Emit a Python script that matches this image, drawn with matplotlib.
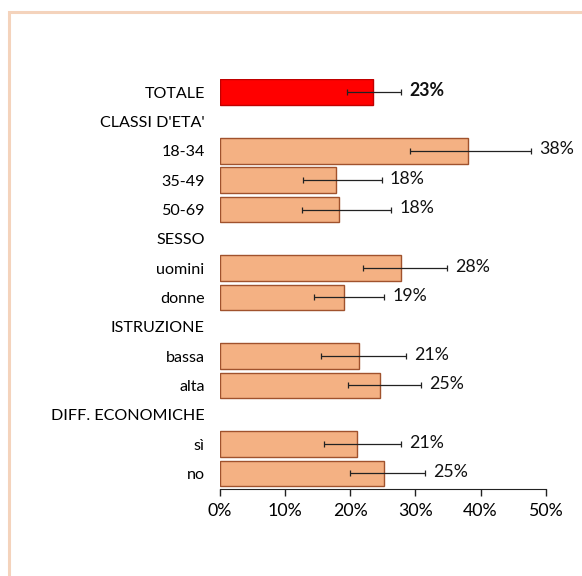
import numpy as np
import matplotlib.pyplot as plt
from matplotlib.patches import Rectangle

plt.rcParams['font.family'] = ['Lato', 'DejaVu Sans']

labels = ["TOTALE", "CLASSI D'ETA'", "18-34", "35-49", "50-69", "SESSO", "uomini", "donne",
          "ISTRUZIONE", "bassa", "alta", "DIFF. ECONOMICHE", "sì", "no"]
values = [23.5, None, 38.0, 17.8, 18.3, None, 27.8, 19.1, None, 21.4, 24.6, None, 21.1, 25.2]
err_low = [19.5, None, 29.1, 12.8, 12.6, None, 22.0, 14.5, None, 15.5, 19.7, None, 15.9, 19.9]
err_high = [27.8, None, 47.7, 24.8, 26.2, None, 34.8, 25.2, None, 28.5, 30.8, None, 27.8, 31.4]
texts = ["23%", "", "38%", "18%", "18%", "", "28%", "19%", "", "21%", "25%", "", "21%", "25%"]

fig = plt.figure(figsize=(5.82, 5.76), dpi=100)
fig.patches.append(Rectangle((8.5 / 582, -0.1), 1.2, 1 - 11.5 / 576 + 0.1, transform=fig.transFigure,
                             fill=False, edgecolor="#F4D3BC", linewidth=2.2))
ax = fig.add_axes([220 / 582, 1 - 489 / 576, 325.7 / 582, 410 / 576])

for i in range(len(labels)):
    v = values[i]
    if v is None:
        continue
    if i == 0:
        fc, ec = "#FF0000", "#C00000"
    else:
        fc, ec = "#F4B183", "#A0522D"
    ax.barh(i, v, height=0.88, color=fc, edgecolor=ec, linewidth=1)
    c = (err_low[i] + err_high[i]) / 2
    ax.errorbar(c, i, xerr=[[c - err_low[i]], [err_high[i] - c]], fmt="none", ecolor="#222222",
                elinewidth=0.9, capsize=2.5, capthick=0.9)
    ax.text(err_high[i] + 1.3, i - 0.05, texts[i], va="center", ha="left", fontsize=12.8,
            fontweight="bold" if i == 0 else "normal", color="#111111")

ax.set_xlim(0, 50)
ax.set_ylim(13.53, -0.45)
ax.set_yticks(range(len(labels)))
ax.set_yticklabels(labels, fontsize=11.6)
ax.tick_params(axis="y", length=0, pad=11)
ax.set_xticks(np.arange(0, 51, 10))
ax.set_xticklabels(["%d%%" % t for t in range(0, 51, 10)], fontsize=12.8)
ax.tick_params(axis="x", length=5, width=1, color="#222222", pad=5)
for s in ["top", "right", "left"]:
    ax.spines[s].set_visible(False)
ax.spines["bottom"].set_color("#222222")

plt.savefig("out.png", dpi=100)
